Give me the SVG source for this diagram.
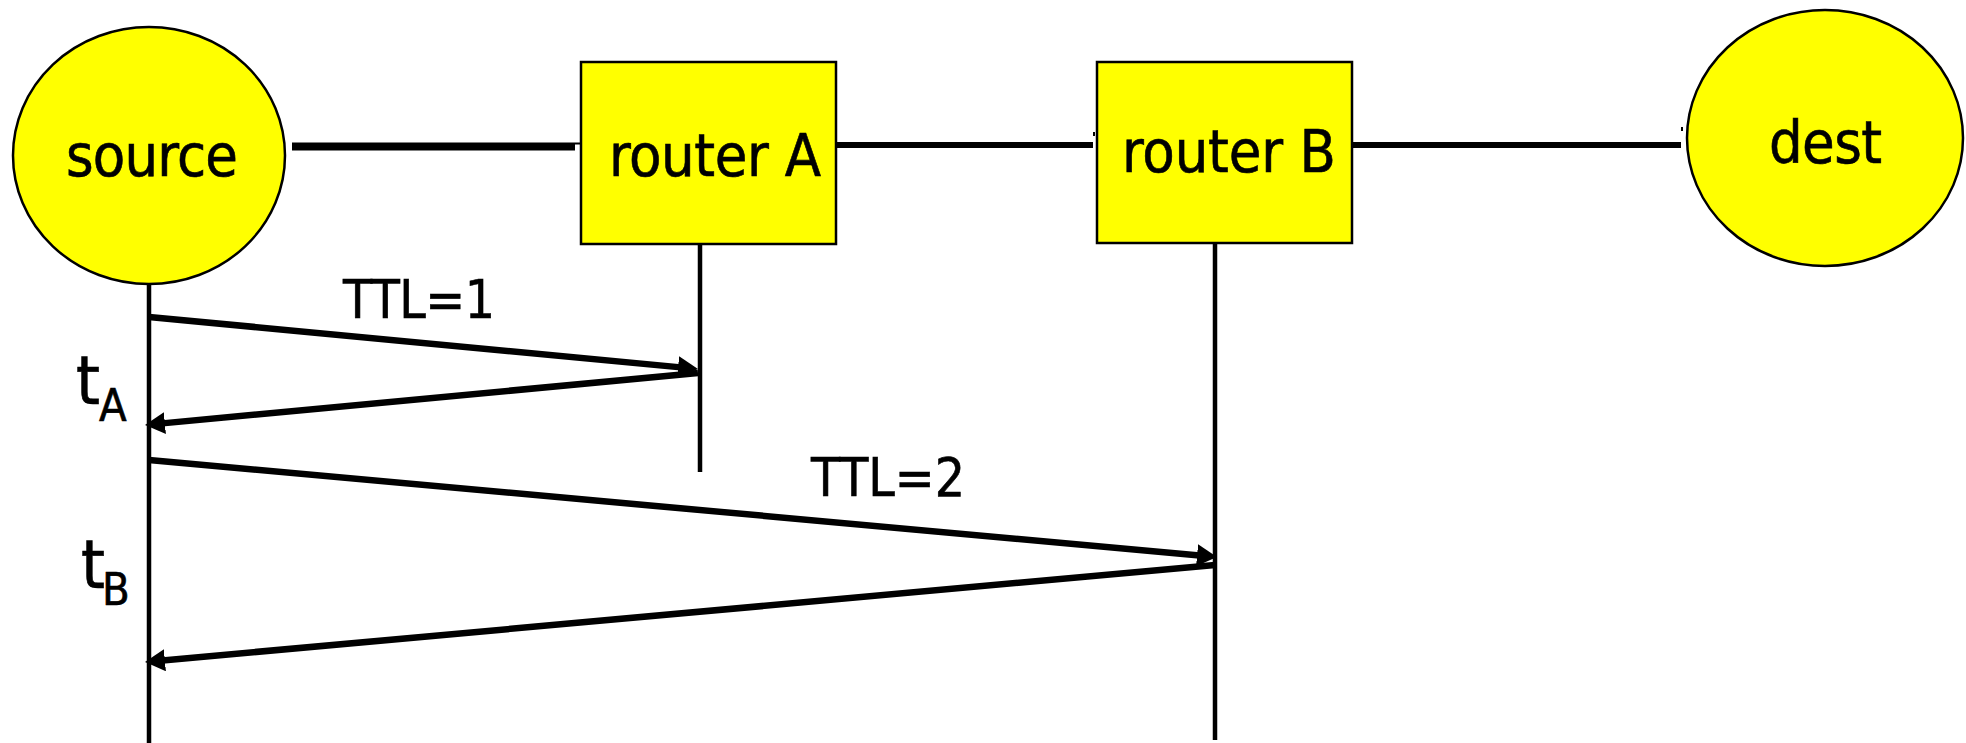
<svg xmlns="http://www.w3.org/2000/svg" width="1966" height="743" viewBox="0 0 1966 743">
<style>
.node{fill:#ffff00;stroke:#000;stroke-width:2.5}
.lbl{font-family:"DejaVu Sans Condensed","DejaVu Sans",sans-serif;font-stretch:condensed;fill:#000;stroke:#000;stroke-width:0.6}
.big{font-size:59px}
.ttl{font-size:53px}
.link{stroke:#000;fill:none}
.life{stroke:#000;stroke-width:4.5;fill:none}
</style>
<defs>
<marker id="ah" markerUnits="userSpaceOnUse" viewBox="0 0 20 22" markerWidth="20" markerHeight="22" refX="8" refY="11" orient="auto">
<path d="M0,0 L20,11 L0,22 z" fill="#000"/>
</marker>
</defs>
<rect width="1966" height="743" fill="#fff"/>
<g id="connectors">
<line class="link" x1="292" y1="146.5" x2="575" y2="146.5" stroke-width="8"/>
<line class="link" x1="575" y1="143.5" x2="582" y2="143.5" stroke-width="2"/>
<line class="link" x1="836" y1="145" x2="1093" y2="145" stroke-width="6"/>
<line class="link" x1="1094" y1="132" x2="1094" y2="136" stroke-width="2"/>
<line class="link" x1="1352" y1="145" x2="1681" y2="145" stroke-width="6"/>
<line class="link" x1="1682" y1="127" x2="1682" y2="131" stroke-width="2"/>
<line class="life" x1="149" y1="284" x2="149" y2="743"/>
<line class="life" x1="700" y1="244" x2="700" y2="472"/>
<line class="life" x1="1215" y1="243" x2="1215" y2="740"/>
<g stroke="#000" stroke-width="6.5" fill="none" marker-end="url(#ah)">
<path d="M149,317 L686.05,367.87"/>
<path d="M698,373 L156.95,423.88"/>
<path d="M149,460 L1205.05,555.91"/>
<path d="M1215,565 L156.95,660.92"/>
</g>
</g>
<g id="source">
<ellipse class="node" cx="149" cy="155.5" rx="136" ry="128.5"/>
<text class="lbl big" x="66" y="176" textLength="172">source</text>
</g>
<g id="routerA">
<rect class="node" x="581" y="62" width="255" height="182"/>
<text class="lbl big" x="609" y="176" textLength="212">router A</text>
</g>
<g id="routerB">
<rect class="node" x="1097" y="62" width="255" height="181"/>
<text class="lbl big" x="1122" y="172" textLength="214">router B</text>
</g>
<g id="dest">
<ellipse class="node" cx="1825" cy="138" rx="138" ry="128"/>
<text class="lbl big" x="1769" y="163" textLength="113">dest</text>
</g>
<g id="labels">
<text class="lbl ttl" x="343" y="318" textLength="152">TTL=1</text>
<text class="lbl ttl" x="811" y="496" textLength="154">TTL=2</text>
<text class="lbl" x="76" y="404" font-size="68">t</text>
<text class="lbl" x="99" y="421" font-size="45">A</text>
<text class="lbl" x="81" y="588" font-size="68">t</text>
<text class="lbl" x="102" y="605" font-size="45">B</text>
</g>
</svg>
